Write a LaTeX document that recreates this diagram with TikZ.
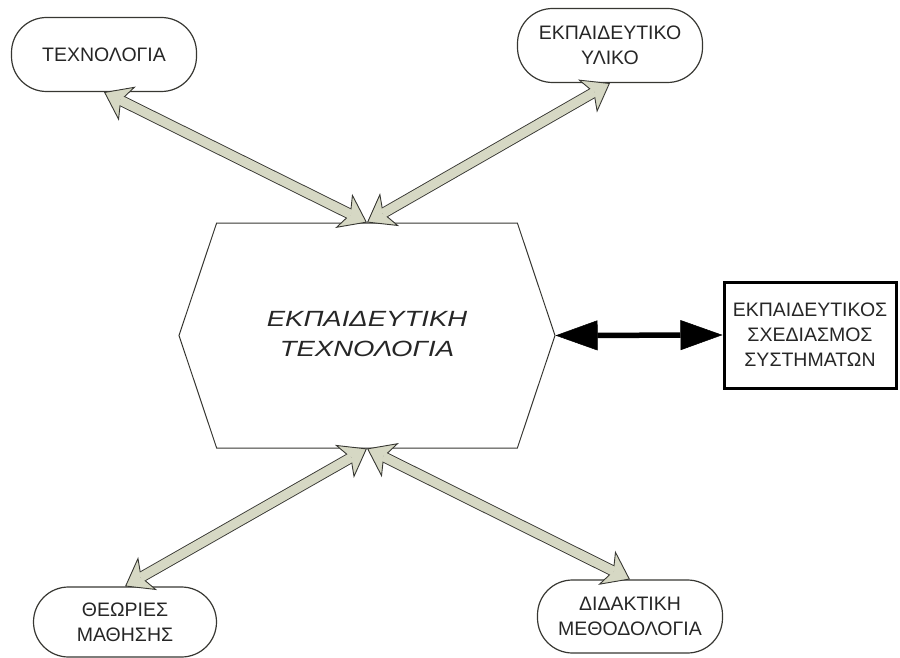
\documentclass[tikz,border=0pt]{standalone}
\usepackage{fontspec}
\setmainfont{Liberation Sans}
\newfontfamily\hexfont[FakeStretch=1.25]{Liberation Sans}
\usetikzlibrary{shapes, arrows.meta, positioning}
\definecolor{arrfill}{RGB}{214,216,196}
\definecolor{arrline}{RGB}{55,55,50}
\definecolor{txtgray}{RGB}{38,38,38}

\begin{document}
\begin{tikzpicture}[x=1pt, y=-1pt,
		oval/.style={draw=arrline,line width=1.2pt,rectangle,rounded corners=35pt,align=center,text=txtgray,font=\fontsize{19.5}{25}\selectfont,minimum width=185pt, minimum height=74pt},
		hexa/.style={draw=arrline,line width=1pt,signal,signal to=west and east,signal pointer angle=143,align=center,text=txtgray,font=\fontsize{22}{30}\hexfont\itshape,minimum width=376pt, minimum height=225pt},
		elem/.style={draw=black,line width=3pt,rectangle,align=center,text=txtgray,font=\fontsize{19.5}{25}\selectfont,minimum width=172pt, minimum height=106pt},
		blk/.style={line width=11pt,draw=arrline,{Stealth[length=26pt,width=38pt,inset=7pt,line width=.9pt,fill=arrfill]}-{Stealth[length=26pt,width=38pt,inset=7pt,line width=.9pt,fill=arrfill]},postaction={draw=arrfill,line width=9.2pt,shorten <=18pt,shorten >=18pt,-}},
		bar/.style={line width=5.5pt,draw=black,{Triangle[length=42pt,width=30pt,line width=.5pt]}-{Triangle[length=42pt,width=30pt,line width=.5pt]}}]
		\useasboundingbox (0,0) rectangle (900,658);
		\node (hex) [hexa] at (367,335.5) {\raisebox{13pt}{\begin{tabular}{@{}c@{}}ΕΚΠΑΙΔΕΥΤΙΚΗ\\ΤΕΧΝΟΛΟΓΙΑ\end{tabular}}};
		\node (tec) [oval] at (104,54.5) {ΤΕΧΝΟΛΟΓΙΑ};
		\node (mat) [oval] at (610,45.5) {ΕΚΠΑΙΔΕΥΤΙΚΟ\\ΥΛΙΚΟ};
		\node (sys) [elem] at (810,335) {ΕΚΠΑΙΔΕΥΤΙΚΟΣ\\ΣΧΕΔΙΑΣΜΟΣ\\ΣΥΣΤΗΜΑΤΩΝ};
		\node (the) [oval, minimum width=183pt, minimum height=70pt] at (125,622) {ΘΕΩΡΙΕΣ\\ΜΑΘΗΣΗΣ};
		\node (did) [oval, minimum height=73pt] at (630,616.5) {ΔΙΔΑΚΤΙΚΗ\\ΜΕΘΟΔΟΛΟΓΙΑ};
		\draw [blk] (hex.north) -- (tec.south);
		\draw [blk] (hex.north) -- (mat.south);
		\draw [blk] (hex.south) -- (the.north);
		\draw [blk] (hex.south) -- (did.north);
		\draw [bar] (hex.east) -- (sys.west);
	\end{tikzpicture}
\end{document}
